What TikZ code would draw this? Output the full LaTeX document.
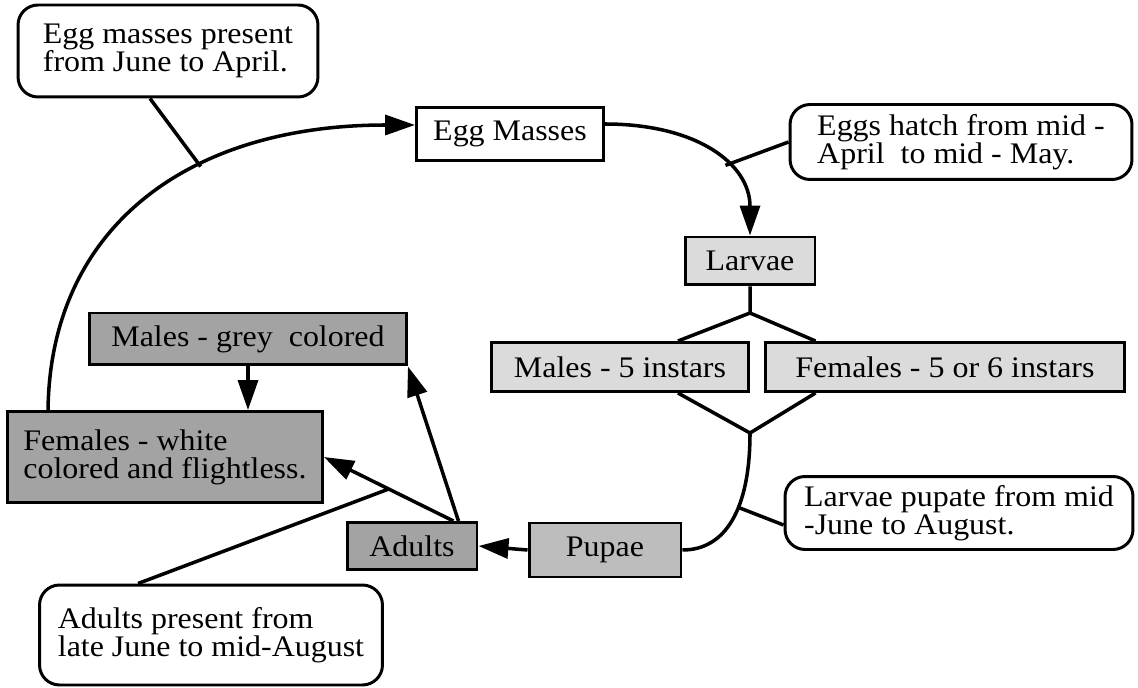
\documentclass[tikz,border=0pt]{standalone}
\usepackage{fontspec}
\setmainfont{Liberation Serif}[FakeStretch=1.07]
\usetikzlibrary{arrows.meta,calc}

\begin{document}
\begin{tikzpicture}[x=0.02cm,y=-0.02cm,
  font=\fontsize{17}{16}\selectfont,
  box/.style={draw,line width=1.7pt,inner sep=2pt},
  note/.style={draw,line width=1.7pt,rounded corners=0.4cm,align=left,inner sep=2pt,fill=white},
  shadelight/.style={box,fill=black!14},
  shademid/.style={box,fill=black!26},
  shadedark/.style={box,fill=black!36},
  link/.style={line width=2pt},
  arr/.style={link,-{Triangle[length=0.6cm,width=0.4cm]}}]
  \useasboundingbox (0,0) rectangle (1138,688);
  % notes
  \node[note,minimum width=6cm,minimum height=1.84cm] (cal1) at (168,51) {Egg masses present\\from June to April.};
  \node[note,minimum width=6.84cm,minimum height=1.5cm] (cal2) at (961,142) {Eggs hatch from mid -\\April\ \ to mid - May.};
  \node[note,minimum width=6.96cm,minimum height=1.46cm] (cal3) at (959,513) {Larvae pupate from mid\\-June to August.};
  \node[note,minimum width=6.86cm,minimum height=2cm] (cal4) at (211,635) {Adults present from\\late June to mid-August};
  % stages
  \node[box,minimum width=3.74cm,minimum height=1.06cm] (egg) at (510,134) {Egg Masses};
  \node[shadelight,minimum width=2.6cm,minimum height=0.96cm] (larvae) at (750,261) {Larvae};
  \node[shadelight,minimum width=5.14cm,minimum height=0.98cm] (m5) at (620,367) {Males - 5 instars};
  \node[shadelight,minimum width=7.2cm,minimum height=0.98cm] (f56) at (945,367) {Females - 5 or 6 instars};
  \node[shademid,minimum width=3.04cm,minimum height=1.08cm] (pupae) at (605,550) {Pupae};
  \node[shadedark,minimum width=2.6cm,minimum height=0.94cm] (adults) at (412,546) {Adults};
  \node[shadedark,minimum width=6.34cm,minimum height=1.04cm] (mgrey) at (248,339) {Males - grey\ \ colored};
  \node[shadedark,minimum width=6.3cm,minimum height=1.82cm,align=left] (fwhite) at (165,457) {Females - white\\colored and flightless.};
  % cycle
  \draw[arr] ($(fwhite.north west)+(42,0)$) .. controls (50,230) and (185,125) .. ($(egg.west)+(0,-9)$) coordinate[pos=0.63] (c1);
  \draw[arr] ($(egg.east)+(0,-10)$) .. controls (697,124) and (750,164) .. (larvae.north) coordinate[pos=0.6] (c2);
  \coordinate (dtop) at (750,313);
  \coordinate (dbot) at (750,433);
  \draw[link] (larvae.south) -- (dtop) -- ($(m5.north east)+(-72,0)$);
  \draw[link] (dtop) -- ($(f56.north west)+(52,0)$);
  \draw[link] ($(m5.south east)+(-72,0)$) -- (dbot) -- ($(f56.south west)+(52,0)$);
  \draw[link] (dbot) .. controls (750,510) and (725,550) .. (pupae.east) coordinate[pos=0.4] (c3);
  \draw[arr] (pupae.west) -- (adults.east);
  \draw[arr] ($(adults.north east)+(-25,0)$) -- (fwhite.east) coordinate[pos=0.5] (c4);
  \draw[arr] ($(adults.north east)+(-20,0)$) -- (mgrey.south east);
  \draw[arr] (mgrey.south) -- (mgrey.south |- fwhite.north);
  % note lines
  \draw[link] ($(cal1.south)+(-18,0)$) -- (c1);
  \draw[link] (cal2.west) -- (c2);
  \draw[link] ($(cal3.west)+(0,12)$) -- (c3);
  \draw[link] ($(cal4.north west)+(100,0)$) -- (c4);
\end{tikzpicture}
\end{document}
